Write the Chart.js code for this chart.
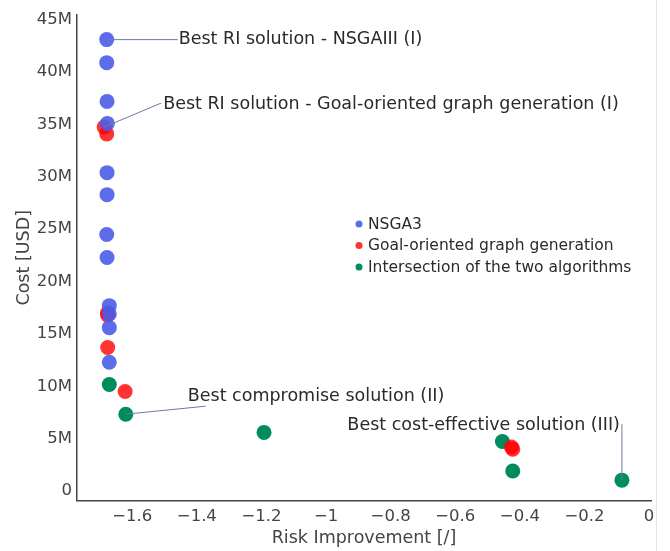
<!DOCTYPE html>
<html>
<head>
<meta charset="utf-8">
<script src="https://cdn.jsdelivr.net/npm/chart.js@4"></script>
<style>
  html, body { margin: 0; padding: 0; background: #fff; }
  #wrap { width: 670px; height: 551px; position: relative; }
</style>
</head>
<body>
<div id="wrap"><canvas id="chart" width="670" height="551"></canvas></div>
<script>
// Risk improvement (x) and cost in million USD (y)
const nsgaX = [-1.679, -1.679, -1.678, -1.677, -1.678, -1.678, -1.679, -1.678, -1.671, -1.671, -1.671, -1.671];
const nsgaY = [43.1, 40.9, 37.2, 35.1, 30.4, 28.3, 24.5, 22.3, 17.7, 16.9, 15.6, 12.3];

const goalX = [-1.687, -1.679, -1.677, -1.676, -1.676, -1.622, -0.426, -0.422];
const goalY = [34.75, 34.1, 17.0, 16.8, 13.7, 9.5, 4.2, 4.0];

const interX = [-1.671, -1.620, -1.192, -0.454, -0.422, -0.084];
const interY = [10.18, 7.34, 5.6, 4.73, 1.92, 1.04];

const seriesNames = ['NSGA3', 'Goal-oriented graph generation', 'Intersection of the two algorithms'];
const seriesColors = ['rgba(74,92,232,0.9)', 'rgba(255,0,0,0.8)', 'rgb(0,140,94)'];

const yTickStep = 5;
const xTickStep = 0.2;

// annotation: which point, label text, label offset (px) and line end offset (px)
const notes = [
  { series: 0, index: 0, text: 'Best RI solution - NSGAIII (I)', tx: 72, ty: 0, lx: 71, ly: 0, align: 'left' },
  { series: 1, index: 0, text: 'Best RI solution - Goal-oriented graph generation (I)', tx: 59, ty: -23, lx: 57, ly: -24, align: 'left' },
  { series: 2, index: 1, text: 'Best compromise solution (II)', tx: 62, ty: -18, lx: 80, ly: -8, align: 'left' },
  { series: 2, index: 5, text: 'Best cost-effective solution (III)', tx: -2, ty: -55, lx: 0, ly: -56, align: 'right' }
];

const FONT = '"DejaVu Sans", Verdana, sans-serif';

function toPoints(xs, ys) {
  return xs.map((x, i) => ({ x: x, y: ys[i] }));
}

const datasets = [
  toPoints(nsgaX, nsgaY),
  toPoints(goalX, goalY),
  toPoints(interX, interY)
].map((pts, i) => ({
  label: seriesNames[i],
  data: pts,
  backgroundColor: seriesColors[i],
  borderWidth: 0,
  pointRadius: 7.5,
  pointHoverRadius: 7.5
}));

function fmtX(v) {
  const r = Math.round(v * 10) / 10;
  if (r === 0) return '0';
  return (r < 0 ? '\u2212' : '') + Math.abs(r);
}

const decorPlugin = {
  id: 'decor',
  afterDatasetsDraw(chart) {
    const ctx = chart.ctx;
    const xs = chart.scales.x, ys = chart.scales.y;
    const area = chart.chartArea;

    // annotations
    ctx.save();
    ctx.font = '17.5px ' + FONT;
    ctx.textBaseline = 'middle';
    notes.forEach(n => {
      const p = chart.data.datasets[n.series].data[n.index];
      const px = xs.getPixelForValue(p.x);
      const py = ys.getPixelForValue(p.y);
      ctx.strokeStyle = '#6b7ba6';
      ctx.lineWidth = 1;
      ctx.beginPath();
      ctx.moveTo(px, py);
      ctx.lineTo(px + n.lx, py + n.ly);
      ctx.stroke();
      ctx.fillStyle = '#2a2a2a';
      ctx.textAlign = n.align;
      ctx.fillText(n.text, px + n.tx, py + n.ty);
    });

    // legend inside plot
    const lx = area.left + 282, ly0 = area.top + 209;
    ctx.font = '15.5px ' + FONT;
    ctx.textAlign = 'left';
    seriesNames.forEach((name, i) => {
      const y = ly0 + i * 21.5;
      ctx.fillStyle = seriesColors[i];
      ctx.beginPath();
      ctx.arc(lx, y, 3.5, 0, Math.PI * 2);
      ctx.fill();
      ctx.fillStyle = '#2a2a2a';
      ctx.fillText(name, lx + 9, y + 1);
    });

    // faint frame line on the right
    ctx.strokeStyle = '#e2e2e2';
    ctx.beginPath();
    ctx.moveTo(656.5, 0);
    ctx.lineTo(656.5, chart.height);
    ctx.stroke();
    ctx.restore();
  }
};

const ctx = document.getElementById('chart').getContext('2d');
new Chart(ctx, {
  type: 'scatter',
  data: { datasets: datasets },
  options: {
    responsive: false,
    animation: false,
    layout: { padding: { top: 10, right: 19, left: 0, bottom: 0 } },
    plugins: {
      legend: { display: false },
      tooltip: { enabled: false }
    },
    scales: {
      x: {
        type: 'linear',
        min: -1.771,
        max: 0.006,
        grid: { display: false, drawTicks: false },
        border: { display: true, color: '#444', width: 1.5 },
        ticks: {
          color: '#444',
          font: { family: FONT, size: 16.5 },
          padding: 6,
          callback: v => fmtX(v)
        },
        afterBuildTicks: s => {
          const t = [];
          for (let v = -1.6; v <= 0.0001; v += xTickStep) t.push({ value: Math.round(v * 10) / 10 });
          s.ticks = t;
        },
        title: {
          display: true,
          text: 'Risk Improvement [/]',
          color: '#444',
          font: { family: FONT, size: 17.5 },
          padding: { top: 0, bottom: 2 }
        },
        afterFit: s => { s.height = 50.3; }
      },
      y: {
        type: 'linear',
        min: -0.92,
        max: 45.46,
        grid: { display: false, drawTicks: false },
        border: { display: true, color: '#444', width: 1.5 },
        ticks: {
          color: '#444',
          font: { family: FONT, size: 16.5 },
          padding: 5,
          callback: v => (v === 0 ? '0' : v + 'M')
        },
        afterBuildTicks: s => {
          const t = [];
          for (let v = 0; v <= 45; v += yTickStep) t.push({ value: v });
          s.ticks = t;
        },
        title: {
          display: true,
          text: 'Cost [USD]',
          color: '#444',
          font: { family: FONT, size: 17.5 },
          padding: { top: 14, bottom: 0 }
        },
        afterFit: s => { s.width = 77; }
      }
    }
  },
  plugins: [decorPlugin]
});
</script>
</body>
</html>
